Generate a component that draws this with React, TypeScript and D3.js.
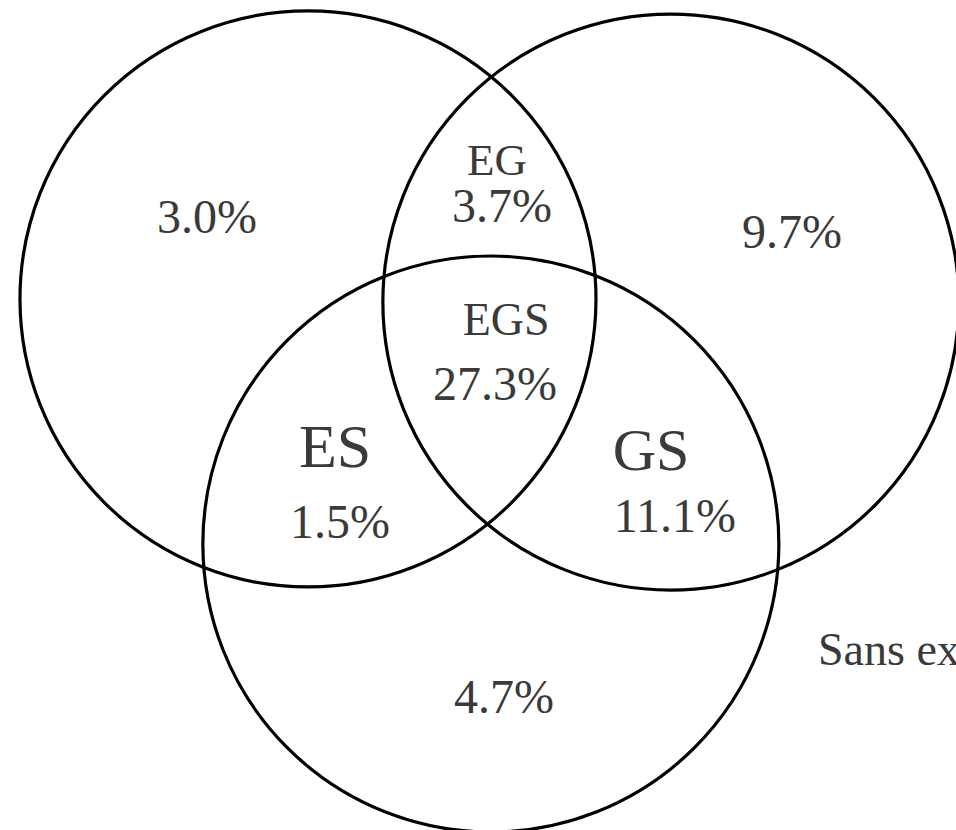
import { useEffect, useRef } from 'react';
import * as d3 from 'd3';

// Sets of the diagram (E, G, S)
const setNames = ['E', 'G', 'S'];
// Circle centres in layout units (1 unit = one radius)
const setCx = [-0.632, 0.628, 0.003];
const setCy = [-0.403, -0.392, 0.448];

// Region labels and shares
const regionNames = ['', 'EG', '', 'EGS', 'ES', 'GS', '', ''];
const regionValues = ['3.0%', '3.7%', '9.7%', '27.3%', '1.5%', '11.1%', '4.7%'];

export default function App() {
  const svgRef = useRef<SVGSVGElement>(null);

  useEffect(() => {
    if (!svgRef.current) return;

    const width = 956;
    const height = 830;

    d3.select(svgRef.current).selectAll('*').remove();

    const svg = d3
      .select(svgRef.current)
      .attr('width', width)
      .attr('height', height)
      .attr('viewBox', `0 0 ${width} ${height}`);

    // Layout scales: unit = circle radius
    const x = d3.scaleLinear().domain([0, 1]).range([490, 778]);
    const y = d3.scaleLinear().domain([0, 1]).range([415, 703]);
    const r = x(1) - x(0);

    svg
      .append('rect')
      .attr('width', width)
      .attr('height', height)
      .attr('fill', '#fff');

    // Circles
    svg
      .selectAll('circle.set')
      .data(setNames)
      .enter()
      .append('circle')
      .attr('class', 'set')
      .attr('cx', (_, i) => x(setCx[i]))
      .attr('cy', (_, i) => y(setCy[i]))
      .attr('r', r)
      .attr('fill', 'none')
      .attr('stroke', '#000')
      .attr('stroke-width', 3.2);

    const font = "'Liberation Serif', 'Times New Roman', serif";
    const textColor = '#3a3a3a';

    // Label anchors for each region (layout units)
    const nameAnchors: [number, number, number][] = [
      [0, 0, 0],
      [0.024, -0.833, 45],
      [0, 0, 0],
      [0.056, -0.278, 46],
      [-0.538, 0.181, 62],
      [0.559, 0.191, 60],
      [0, 0, 0],
    ];
    const valueAnchors: [number, number][] = [
      [-0.983, -0.632],
      [0.042, -0.67],
      [1.049, -0.58],
      [0.017, -0.052],
      [-0.521, 0.427],
      [0.642, 0.406],
      [0.049, 1.035],
    ];

    svg
      .selectAll('text.name')
      .data(regionNames.slice(0, 7).map((n, i) => ({ n, a: nameAnchors[i] })).filter((d) => d.n))
      .enter()
      .append('text')
      .attr('class', 'name')
      .attr('x', (d) => x(d.a[0]))
      .attr('y', (d) => y(d.a[1]))
      .attr('text-anchor', 'middle')
      .attr('font-family', font)
      .attr('font-size', (d) => d.a[2])
      .attr('fill', textColor)
      .text((d) => d.n);

    svg
      .selectAll('text.value')
      .data(regionValues)
      .enter()
      .append('text')
      .attr('class', 'value')
      .attr('x', (_, i) => x(valueAnchors[i][0]))
      .attr('y', (_, i) => y(valueAnchors[i][1]))
      .attr('text-anchor', 'middle')
      .attr('font-family', font)
      .attr('font-size', 48)
      .attr('fill', textColor)
      .text((d) => d);

    // Outside label, cut by the frame
    svg
      .append('text')
      .attr('x', x(1.139))
      .attr('y', y(0.868))
      .attr('font-family', font)
      .attr('font-size', 46)
      .attr('fill', textColor)
      .text('Sans exposition');
  }, []);

  return (
    <svg
      ref={svgRef}
      style={{ position: 'absolute', left: 0, top: 0, display: 'block', overflow: 'hidden' }}
    />
  );
}
